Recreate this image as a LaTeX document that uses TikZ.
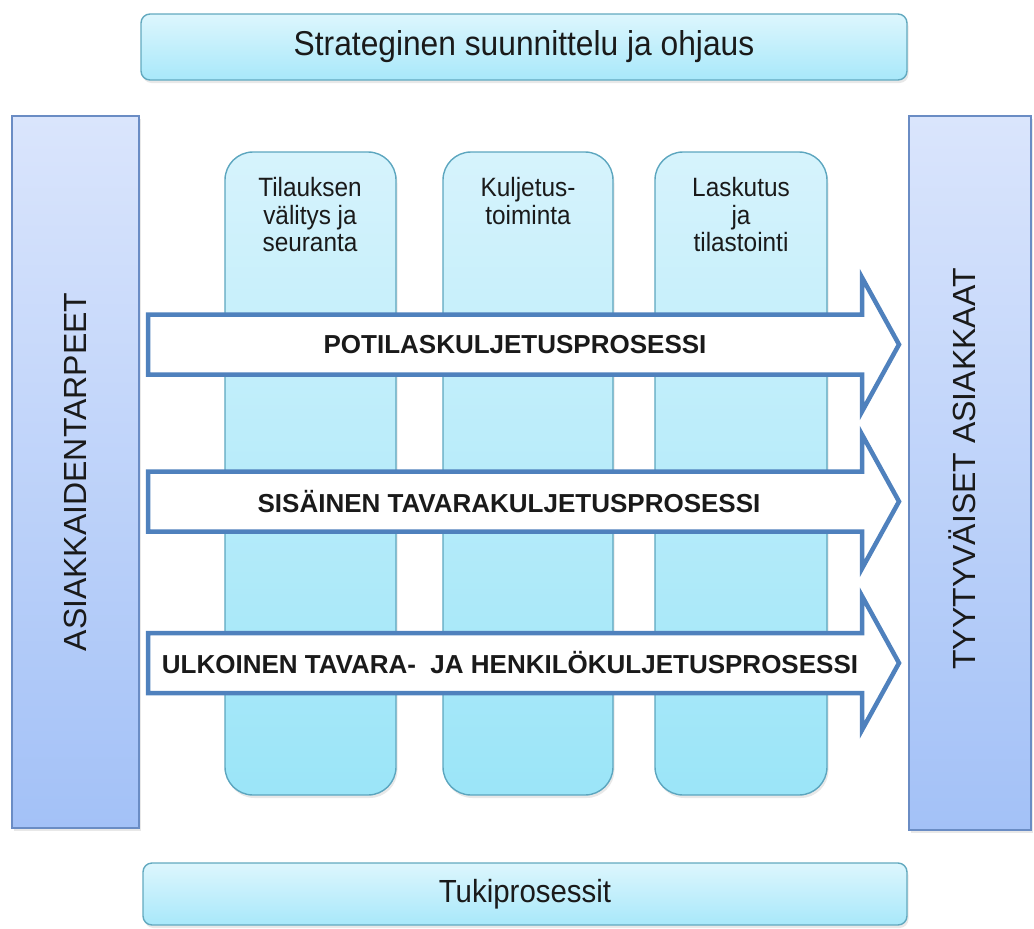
\documentclass[tikz,border=0pt]{standalone}
\usepackage{fontspec}
\setmainfont{Liberation Sans}
\newfontfamily\narrowsans[FakeStretch=0.92]{Liberation Sans}
\usetikzlibrary{shadows}
\definecolor{barTop}{HTML}{DDF6FD}
\definecolor{barBot}{HTML}{A8E8FA}
\definecolor{barLine}{HTML}{62A9BF}
\definecolor{colTop}{HTML}{D6F3FC}
\definecolor{colBot}{HTML}{9BE5F8}
\definecolor{colLine}{HTML}{5CA6BF}
\definecolor{sideTop}{HTML}{DAE5FC}
\definecolor{sideBot}{HTML}{A3C1F7}
\definecolor{sideLine}{HTML}{6A8CC4}
\definecolor{arrLine}{HTML}{4F81BD}
\definecolor{txt}{HTML}{1A1A1A}
\tikzset{
  softshadow/.style={drop shadow={opacity=0.18, shadow xshift=1.5pt, shadow yshift=-3pt}},
  barbox/.style={draw=barLine, line width=1.4pt, rounded corners=9pt, top color=barTop, bottom color=barBot, softshadow, text=txt, inner sep=0pt},
  colbox/.style={draw=colLine, line width=1.4pt, rounded corners=28pt, top color=colTop, bottom color=colBot, softshadow, minimum height=643pt, inner sep=0pt},
  sidebox/.style={draw=sideLine, line width=1.4pt, top color=sideTop, bottom color=sideBot, softshadow, inner sep=0pt},
  coltext/.style={anchor=north, align=center, text=txt, font=\narrowsans\fontsize{26.5}{27.5}\selectfont},
  sidetext/.style={rotate=90, text=txt, font=\fontsize{32}{36}\selectfont},
  procarrow/.style={draw=arrLine, fill=white, line width=4.5pt, line join=miter},
  arrtext/.style={text=txt, font=\bfseries\fontsize{26}{30}\selectfont}
}
\newcommand{\procarrowpath}[1]{%
  \path[procarrow] (148,#1-30) -- (862,#1-30) -- (862,#1-67) -- (899,#1) -- (862,#1+67) -- (862,#1+30) -- (148,#1+30) -- cycle;}
\begin{document}
\begin{tikzpicture}[x=1pt,y=-1pt]
\useasboundingbox (0,0) rectangle (1034,929);
% bars
\node[barbox, minimum width=766pt, minimum height=66pt, font=\narrowsans\fontsize{34.5}{38}\selectfont] (strat) at (524,47) {Strateginen suunnittelu ja ohjaus};
\node[barbox, minimum width=764pt, minimum height=62pt, font=\narrowsans\fontsize{32}{36}\selectfont] (tuki) at (525,894) {Tukiprosessit};
% side boxes
\node[sidebox, minimum width=127pt, minimum height=712pt] (needs) at (75.5,472) {};
\node[sidebox, minimum width=122pt, minimum height=714pt] (happy) at (970,473) {};
\node[sidetext] (needsT) at (needs.center) {ASIAKKAIDENTARPEET};
\node[sidetext] (happyT) at (962,469) {TYYTYVÄISET ASIAKKAAT};
% columns
\node[colbox, minimum width=171pt] (c1) at (310.5,473.5) {};
\node[colbox, minimum width=170pt] (c2) at (528,473.5) {};
\node[colbox, minimum width=172pt] (c3) at (741,473.5) {};
\node[coltext] (c1t) at (310,174) {Tilauksen\\välitys ja\\seuranta};
\node[coltext] (c2t) at (528,174) {Kuljetus-\\toiminta};
\node[coltext] (c3t) at (741,174) {Laskutus\\ja\\tilastointi};
% process arrows
\procarrowpath{344.5}
\procarrowpath{501.5}
\procarrowpath{663}
\node[arrtext] (p1) at (515,345) {POTILASKULJETUSPROSESSI};
\node[arrtext] (p2) at (509,502) {SISÄINEN TAVARAKULJETUSPROSESSI};
\node[arrtext] (p3) at (510,663) {ULKOINEN TAVARA-\ \ JA HENKILÖKULJETUSPROSESSI};
\end{tikzpicture}
\end{document}
